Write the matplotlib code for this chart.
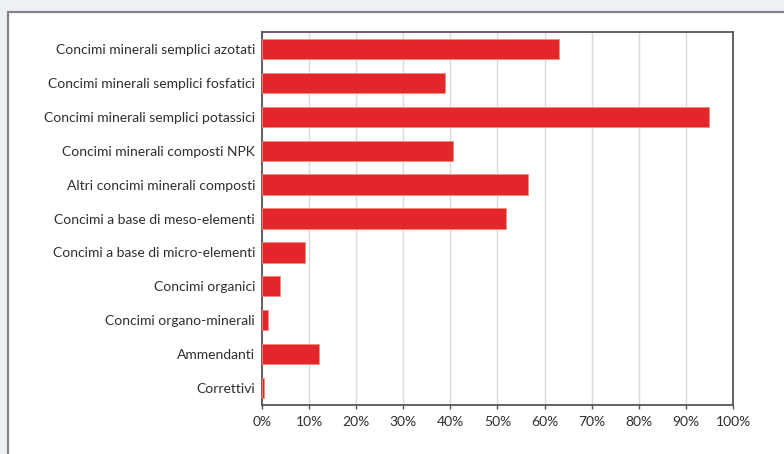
import matplotlib
matplotlib.use("Agg")
import matplotlib.pyplot as plt
from matplotlib.patches import Rectangle
from matplotlib.ticker import FuncFormatter

categories = [
    "Concimi minerali semplici azotati",
    "Concimi minerali semplici fosfatici",
    "Concimi minerali semplici potassici",
    "Concimi minerali composti NPK",
    "Altri concimi minerali composti",
    "Concimi a base di meso-elementi",
    "Concimi a base di micro-elementi",
    "Concimi organici",
    "Concimi organo-minerali",
    "Ammendanti",
    "Correttivi",
]
values = [63.1, 38.9, 95.0, 40.6, 56.5, 51.9, 9.1, 3.8, 1.3, 12.0, 0.5]
x_ticks = [0, 10, 20, 30, 40, 50, 60, 70, 80, 90, 100]

W, H = 784, 454
fig = plt.figure(figsize=(W / 100, H / 100), dpi=100)
fig.patch.set_facecolor("#edf1f6")

# white card with grey border, behind the chart
bg = fig.add_axes([0, 0, 1, 1], zorder=-10)
bg.set_xlim(0, W)
bg.set_ylim(H, 0)
bg.axis("off")
bg.add_patch(Rectangle((8.5, 11.5), W, H, facecolor="white",
                       edgecolor="#858585", linewidth=1.6))

left, right, top, bottom = 262, 733, 32, 405
ax = fig.add_axes([left / W, 1 - bottom / H, (right - left) / W, (bottom - top) / H])
ax.set_facecolor("white")

font = "Lato"
ypos = list(range(len(categories)))
ax.barh(ypos, values, height=0.6, color="#e2262a", edgecolor="#f08a7a",
        linewidth=0.6, zorder=3)

ax.set_xlim(0, 100)
ax.set_ylim(len(categories) - 0.5, -0.5)
ax.set_xticks(x_ticks)
ax.xaxis.set_major_formatter(FuncFormatter(lambda v, p: f"{int(v)}%"))
ax.set_yticks(ypos)
ax.set_yticklabels(categories)

ax.grid(axis="x", color="#dcd9d9", linewidth=1.0, zorder=0)
ax.set_axisbelow(True)

for s in ax.spines.values():
    s.set_color("#555555")
    s.set_linewidth(1.3)

ax.tick_params(axis="x", length=3, width=1, color="#555555", pad=5,
               labelsize=10, labelcolor="#2e2e2e")
ax.tick_params(axis="y", length=0, pad=5, labelsize=10, labelcolor="#2e2e2e")
for lbl in ax.get_xticklabels() + ax.get_yticklabels():
    lbl.set_fontfamily(font)

fig.savefig("out.png", dpi=100, facecolor=fig.get_facecolor())
